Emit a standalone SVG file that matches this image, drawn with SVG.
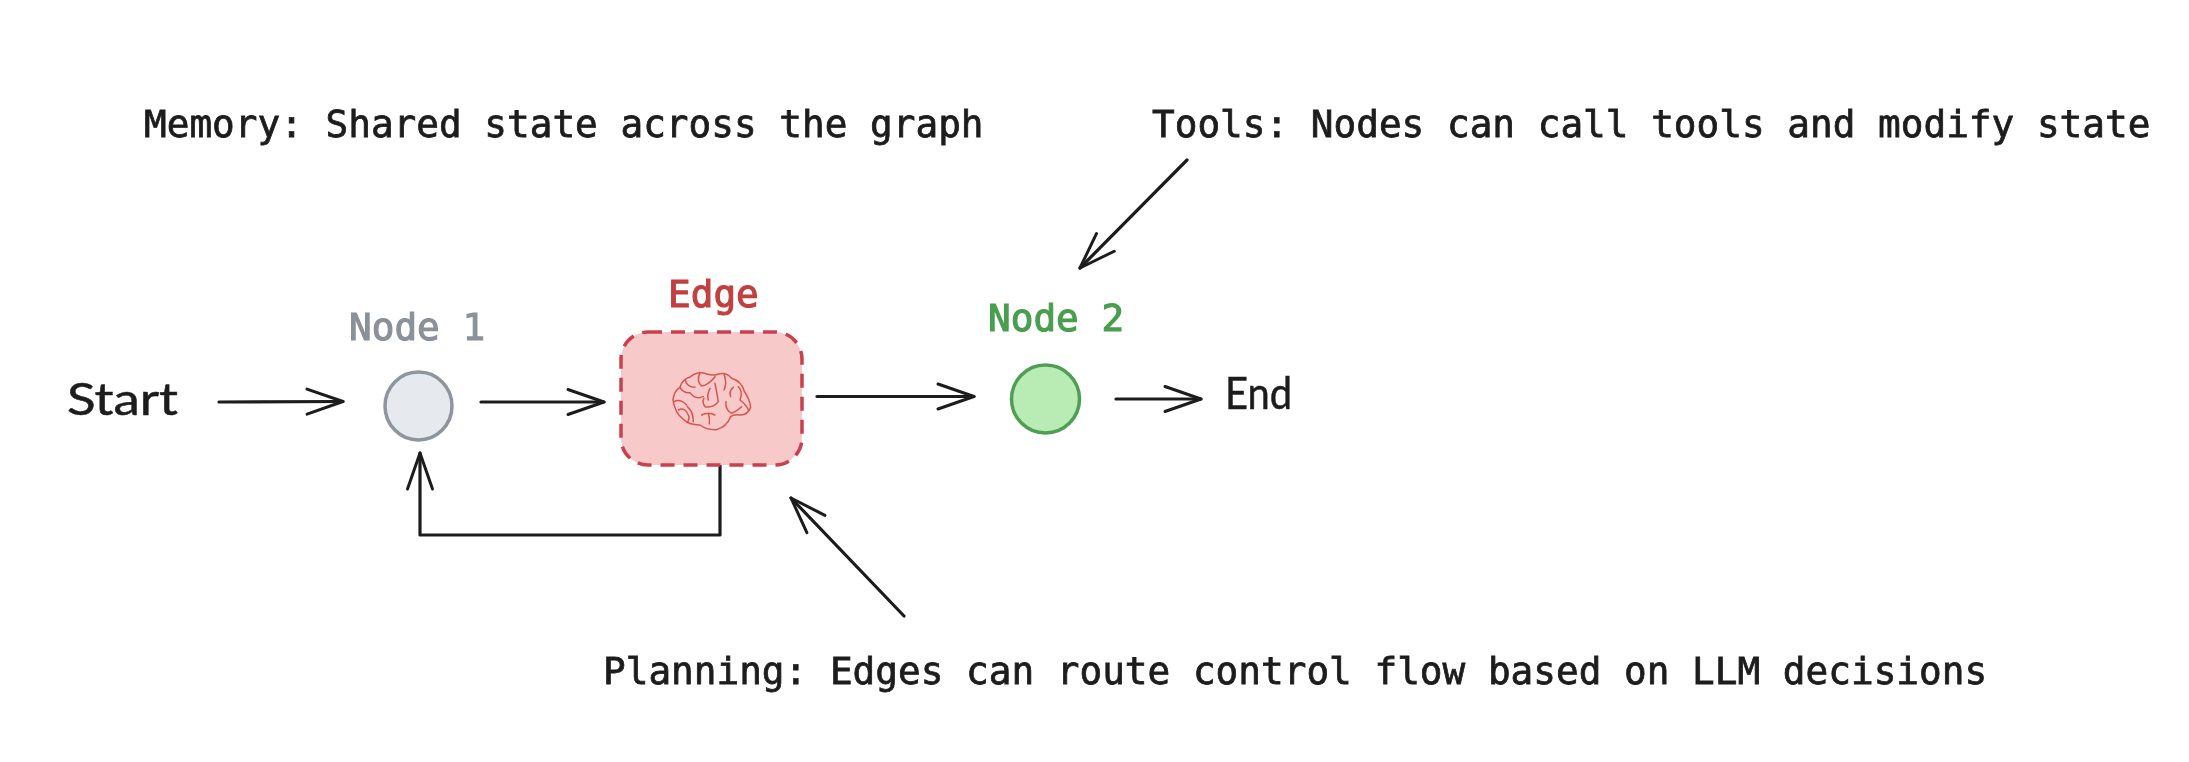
<svg xmlns="http://www.w3.org/2000/svg" width="2189" height="762" viewBox="0 0 2189 762">
<style>
.mono{font-family:"DejaVu Sans Mono","Liberation Mono",monospace;font-size:37.7px;fill:#1e1e1e;stroke:#1e1e1e;stroke-width:.8px}
.lab{font-family:"DejaVu Sans Mono","Liberation Mono",monospace;font-size:37.7px;stroke-width:1.1px}
.hand{font-family:"Lato","Noto Sans",sans-serif;font-size:44px;fill:#1e1e1e;stroke:#1e1e1e;stroke-width:.5px}
.ar{fill:none;stroke:#1e1e1e;stroke-width:3.2;stroke-linecap:round;stroke-linejoin:round}
.br{fill:none;stroke:#d9534f;stroke-width:4.5;stroke-linecap:round;stroke-linejoin:round}
</style>
<defs>
<marker id="v" markerUnits="userSpaceOnUse" markerWidth="42" markerHeight="32" refX="38" refY="15" orient="auto" overflow="visible">
<path d="M2 2.5L38 15L2 27.5" fill="none" stroke="#1e1e1e" stroke-width="3" stroke-linecap="round" stroke-linejoin="round"/>
</marker>
<filter id="soft" x="0" y="0" width="100%" height="100%"><feGaussianBlur stdDeviation=".55"/></filter>
</defs>
<rect width="2189" height="762" fill="#fff"/>
<g filter="url(#soft)">
<g id="connectors">
<path class="ar" marker-end="url(#v)" d="M219 402L343 401.5"/>
<path class="ar" marker-end="url(#v)" d="M481 402L604 402"/>
<path class="ar" marker-end="url(#v)" d="M817 396.5L974 396.5"/>
<path class="ar" marker-end="url(#v)" d="M1116 399L1201 399"/>
<path class="ar" marker-end="url(#v)" d="M720 465L720 535L420 535L420 453"/>
<path class="ar" marker-end="url(#v)" d="M1187 160L1080 268"/>
<path class="ar" marker-end="url(#v)" d="M904 616L791 498"/>
</g>
<g id="memory-label"><text class="mono" x="144" y="137">Memory: Shared state across the graph</text></g>
<g id="tools-label"><text class="mono" x="1152" y="137">Tools: Nodes can call tools and modify state</text></g>
<g id="planning-label"><text class="mono" x="603" y="684">Planning: Edges can route control flow based on LLM decisions</text></g>
<g id="start"><text class="hand" x="67" y="415" textLength="111" lengthAdjust="spacingAndGlyphs">Start</text></g>
<g id="node1">
<ellipse cx="418.5" cy="406" rx="33.5" ry="34" fill="#e6e9ee" stroke="#8f959c" stroke-width="3.5"/>
<text class="lab" x="349" y="340" fill="#8b9199" stroke="#8b9199">Node 1</text>
</g>
<g id="edge">
<rect x="621" y="332" width="181" height="133" rx="27" fill="#f7c9c9" stroke="#c9404f" stroke-width="3.5" stroke-dasharray="14 9"/>
<text class="lab" x="668" y="307" fill="#c23f3f" stroke="#c23f3f">Edge</text>
<g id="brain" transform="translate(600 300) scale(.3333)">
<path class="br" d="M219 300Q222 272 240 262Q245 238 272 230Q295 212 320 222Q345 228 355 222Q380 215 395 235Q425 245 432 272Q450 300 452 322Q445 345 420 345Q400 342 392 350Q380 380 350 389Q320 390 300 375Q265 375 250 358Q225 340 219 300Z"/>
<path class="br" d="M255 240Q262 262 285 262M300 218Q288 245 305 258Q325 255 345 230M240 262Q250 280 270 278Q285 300 310 290M222 305Q240 295 260 315M330 265Q320 285 325 300M345 250Q352 285 355 305Q340 325 315 320Q305 305 312 295M372 222Q382 250 372 270M400 262Q385 275 392 290M415 260Q430 275 420 300Q440 315 445 330M378 305Q375 330 395 340Q415 330 425 320M235 330Q255 320 265 345Q270 355 262 368M262 320Q280 335 280 365M305 345Q325 335 345 345M325 340Q330 355 328 372"/>
</g>
</g>
<g id="node2">
<circle cx="1045.5" cy="399" r="34" fill="#b8ecb4" stroke="#4f9e52" stroke-width="3.5"/>
<text class="lab" x="988" y="331" fill="#4a9e4f" stroke="#4a9e4f">Node 2</text>
</g>
<g id="end"><text class="hand" x="1225" y="409" textLength="67" lengthAdjust="spacingAndGlyphs">End</text></g>
</g>
</svg>
